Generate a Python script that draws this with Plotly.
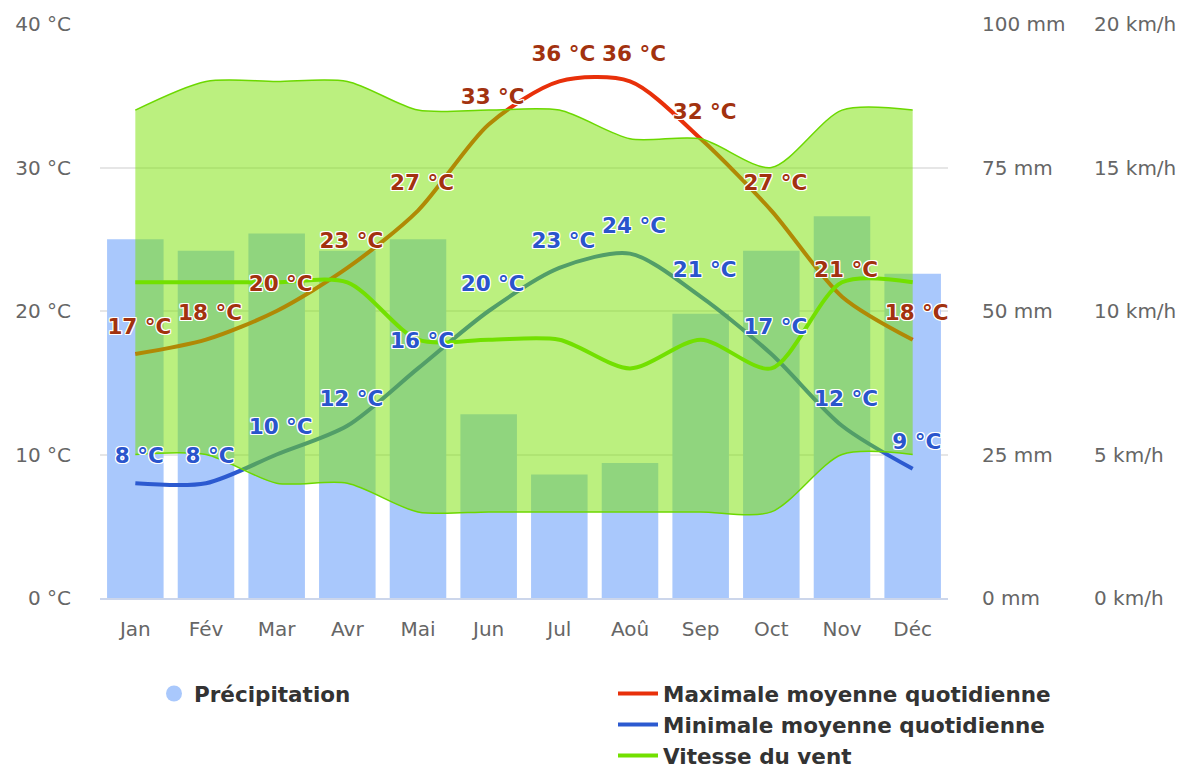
import plotly.graph_objects as go

months = ["Jan", "Fév", "Mar", "Avr", "Mai", "Jun", "Jul", "Aoû", "Sep", "Oct", "Nov", "Déc"]
precip_mm = [62.5, 60.5, 63.5, 60.5, 62.5, 32, 21.5, 23.5, 49.5, 60.5, 66.5, 56.5]
temp_max = [17, 18, 20, 23, 27, 33, 36, 36, 32, 27, 21, 18]
temp_min = [8, 8, 10, 12, 16, 20, 23, 24, 21, 17, 12, 9]
wind_avg = [11, 11, 11, 11, 9, 9, 9, 8, 9, 8, 11, 11]
wind_low = [5, 5, 4, 4, 3, 3, 3, 3, 3, 3, 5, 5]
wind_high = [17, 18, 18, 18, 17, 17, 17, 16, 16, 15, 17, 17]

temp_ticks = [0, 10, 20, 30, 40]
mm_ticks = [0, 25, 50, 75, 100]
kmh_ticks = [0, 5, 10, 15, 20]

max_labels = [f"{v} °C" for v in temp_max]
min_labels = [f"{v} °C" for v in temp_min]

FONT = "DejaVu Sans"
HALO = ("white 1px 1px 0px, white -1px -1px 0px, white 1px -1px 0px, white -1px 1px 0px, "
        "white 0px 1px 0px, white 0px -1px 0px, white 1px 0px 0px, white -1px 0px 0px")
SMOOTH = 0.8

# page body has an 8px margin: figure is sized/positioned to compensate
W, H, OFF = 1181, 761, 8


def cx(px):
    return (px - OFF) / W


def cy(py):
    return 1 - (py - OFF) / H


fig = go.Figure()

# precipitation bars (main y axis, mm)
fig.add_trace(go.Bar(x=months, y=precip_mm, marker_color="#a9c8fc", marker_line_width=0,
                     width=0.8, showlegend=False, yaxis="y", hoverinfo="skip"))

# temperature lines (°C)
fig.add_trace(go.Scatter(x=months, y=temp_max, mode="lines",
                         line=dict(color="#e8300a", width=4, shape="spline", smoothing=SMOOTH),
                         name="Maximale moyenne quotidienne", legend="legend2", yaxis="y2"))
fig.add_trace(go.Scatter(x=months, y=temp_min, mode="lines",
                         line=dict(color="#2c5ad0", width=4, shape="spline", smoothing=SMOOTH),
                         name="Minimale moyenne quotidienne", legend="legend2", yaxis="y2"))

# wind range area (km/h)
fig.add_trace(go.Scatter(x=months, y=wind_low, mode="lines",
                         line=dict(color="#6cd800", width=1.5, shape="spline", smoothing=SMOOTH),
                         showlegend=False, yaxis="y3", hoverinfo="skip"))
fig.add_trace(go.Scatter(x=months, y=wind_high, mode="lines",
                         line=dict(color="#6cd800", width=1.5, shape="spline", smoothing=SMOOTH),
                         fill="tonexty", fillcolor="rgba(120,226,0,0.5)",
                         showlegend=False, yaxis="y3", hoverinfo="skip"))
fig.add_trace(go.Scatter(x=months, y=wind_avg, mode="lines",
                         line=dict(color="#72e000", width=4, shape="spline", smoothing=SMOOTH),
                         name="Vitesse du vent", legend="legend2", yaxis="y3"))

# data labels (on top)
fig.add_trace(go.Scatter(x=months, y=temp_max, mode="markers+text", text=max_labels, textposition="top center",
                         marker=dict(size=22, color="rgba(0,0,0,0)"),
                         textfont=dict(family=FONT, size=21.5, color="#a2320f", weight="bold", shadow=HALO),
                         showlegend=False, xaxis="x2", yaxis="y4", hoverinfo="skip"))
fig.add_trace(go.Scatter(x=months, y=temp_min, mode="markers+text", text=min_labels, textposition="top center",
                         marker=dict(size=22, color="rgba(0,0,0,0)"),
                         textfont=dict(family=FONT, size=21.5, color="#2a55cc", weight="bold", shadow=HALO),
                         showlegend=False, xaxis="x2", yaxis="y4", hoverinfo="skip"))

# legend entry for precipitation (circle symbol)
fig.add_trace(go.Scatter(x=[None], y=[None], mode="markers", marker=dict(symbol="circle", size=22, color="#a9c8fc"),
                         name="Précipitation", legend="legend", yaxis="y2"))

tickfont = dict(family=FONT, size=20, color="#666666")
legfont = dict(family=FONT, size=21.5, color="#333333", weight="bold")

fig.update_layout(
    width=W, height=H,
    margin=dict(l=92, r=241, t=16, b=171, autoexpand=False),
    plot_bgcolor="white", paper_bgcolor="white",
    font=dict(family=FONT),
    bargap=0.2,
    xaxis=dict(type="category", range=[-0.5, 11.5], showgrid=False, showline=True, linecolor="#ccd6eb",
               linewidth=2, ticks="", tickfont=tickfont, ticklabelstandoff=12),
    xaxis2=dict(type="category", overlaying="x", range=[-0.557, 11.443], visible=False),
    yaxis=dict(range=[0, 100], tickvals=mm_ticks, ticktext=[f"{v} mm" for v in mm_ticks], side="right",
               showgrid=False, zeroline=False, tickfont=tickfont, ticks="", ticklabelstandoff=33),
    yaxis2=dict(range=[0, 40], tickvals=temp_ticks, ticktext=[f"{v} °C" for v in temp_ticks], side="left",
                overlaying="y", anchor="x", showgrid=True, gridcolor="#e6e6e6", gridwidth=2, zeroline=False,
                tickfont=tickfont, ticks="", ticklabelstandoff=28),
    yaxis3=dict(range=[0, 20], tickvals=kmh_ticks, ticktext=[f"{v} km/h" for v in kmh_ticks], side="right",
                overlaying="y", anchor="x", showgrid=False, zeroline=False, tickfont=tickfont, ticks="",
                ticklabelstandoff=145),
    yaxis4=dict(range=[0, 40], overlaying="y", anchor="x2", visible=False),
    legend=dict(xref="container", yref="container", x=cx(154), y=cy(673), xanchor="left", yanchor="top",
                font=legfont, bgcolor="rgba(0,0,0,0)", itemwidth=30),
    legend2=dict(xref="container", yref="container", x=cx(613), y=cy(673), xanchor="left", yanchor="top",
                 font=legfont, bgcolor="rgba(0,0,0,0)", itemwidth=40, tracegroupgap=0),
    showlegend=True,
)

fig.write_html("out.html")
